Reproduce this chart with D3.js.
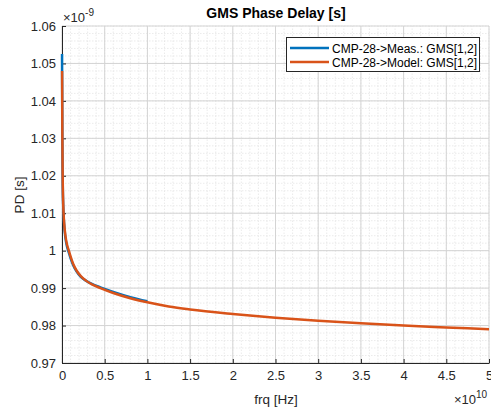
<!DOCTYPE html>
<html>
<head>
<meta charset="utf-8">
<script src="https://cdn.jsdelivr.net/npm/d3@7"></script>
<style>
  body { margin: 0; background: #fff; }
  text { font-family: "Liberation Sans", Arial, sans-serif; }
</style>
</head>
<body>
<div id="chart"></div>
<script>
// frequency in units of 1e10 Hz, phase delay in units of 1e-9 s
const measFrq = [0.0005, 0.001, 0.002, 0.004, 0.008, 0.015, 0.025, 0.04, 0.06, 0.08, 0.1, 0.13, 0.17, 0.22, 0.28, 0.35, 0.45, 0.6, 0.8, 1.0];
const measPD  = [1.0525, 1.049, 1.043, 1.03, 1.019, 1.0115, 1.007, 1.0035, 1.001, 0.9995, 0.998, 0.9962, 0.9945, 0.993, 0.992, 0.9911, 0.9902, 0.989, 0.9876, 0.9865];

const modelFrq = [0.001, 0.002, 0.004, 0.008, 0.015, 0.025, 0.04, 0.06, 0.08, 0.1, 0.13, 0.17, 0.22, 0.28, 0.35, 0.45, 0.6, 0.8, 1.0, 1.25, 1.5, 2.0, 2.5, 3.0, 3.5, 4.0, 4.5, 5.0];
const modelPD  = [1.048, 1.043, 1.031, 1.02, 1.012, 1.0075, 1.004, 1.0015, 1.0, 0.9985, 0.9965, 0.9947, 0.9932, 0.992, 0.991, 0.99, 0.9887, 0.9873, 0.9862, 0.9851, 0.9843, 0.9831, 0.9821, 0.9813, 0.9806, 0.98, 0.9795, 0.979];

const xTicks = [0, 0.5, 1, 1.5, 2, 2.5, 3, 3.5, 4, 4.5, 5];
const yTicks = [0.97, 0.98, 0.99, 1.0, 1.01, 1.02, 1.03, 1.04, 1.05, 1.06];
const seriesNames = ["CMP-28->Meas.: GMS[1,2]", "CMP-28->Model: GMS[1,2]"];
const colors = ["#0072BD", "#D95319"];

const width = 491, height = 407;
const svg = d3.select("#chart").append("svg")
  .attr("width", width).attr("height", height);

const x = d3.scaleLinear().domain([0, 5]).range([62, 489]);
const y = d3.scaleLinear().domain([0.97, 1.06]).range([363, 26]);

// minor grid
const g = svg.append("g");
g.selectAll(".mx").data(d3.range(0, 5.0001, 0.1)).join("line")
  .attr("x1", d => x(d)).attr("x2", d => x(d))
  .attr("y1", y(0.97)).attr("y2", y(1.06))
  .attr("stroke", "#e2e2e2").attr("stroke-width", 0.7).attr("stroke-dasharray", "1.5,1.5");
g.selectAll(".my").data(d3.range(0.97, 1.0601, 0.002)).join("line")
  .attr("x1", x(0)).attr("x2", x(5))
  .attr("y1", d => y(d)).attr("y2", d => y(d))
  .attr("stroke", "#e2e2e2").attr("stroke-width", 0.7).attr("stroke-dasharray", "1.5,1.5");

// major grid
g.selectAll(".gx").data(xTicks).join("line")
  .attr("x1", d => x(d)).attr("x2", d => x(d))
  .attr("y1", y(0.97)).attr("y2", y(1.06))
  .attr("stroke", "#d4d4d4").attr("stroke-width", 1);
g.selectAll(".gy").data(yTicks).join("line")
  .attr("x1", x(0)).attr("x2", x(5))
  .attr("y1", d => y(d)).attr("y2", d => y(d))
  .attr("stroke", "#d4d4d4").attr("stroke-width", 1);

// axes
const xAxis = d3.axisBottom(x).tickValues(xTicks).tickSizeInner(-4).tickSizeOuter(0).tickPadding(8)
  .tickFormat(d => d3.format("~g")(d));
const yAxis = d3.axisLeft(y).tickValues(yTicks).tickSizeInner(-4).tickSizeOuter(0).tickPadding(6)
  .tickFormat(d => d3.format("~g")(+d.toFixed(2)));

const ax = svg.append("g").attr("transform", `translate(0,${y(0.97)})`).call(xAxis);
const ay = svg.append("g").attr("transform", `translate(${x(0)},0)`).call(yAxis);
[ax, ay].forEach(a => {
  a.select(".domain").attr("stroke", "#262626").attr("stroke-width", 1);
  a.selectAll(".tick line").attr("stroke", "#262626");
  a.selectAll(".tick text").attr("fill", "#262626").style("font-size", "13px")
    .style("font-family", "Liberation Sans, Arial, sans-serif");
});

// lines
const line = d3.line().x(d => x(d[0])).y(d => y(d[1])).curve(d3.curveMonotoneX);
const meas = measFrq.map((f, i) => [f, measPD[i]]);
const model = modelFrq.map((f, i) => [f, modelPD[i]]);
svg.append("path").datum(meas).attr("d", line)
  .attr("fill", "none").attr("stroke", colors[0]).attr("stroke-width", 2.5);
svg.append("path").datum(model).attr("d", line)
  .attr("fill", "none").attr("stroke", colors[1]).attr("stroke-width", 2.5);

// title and labels
svg.append("text").attr("x", 276).attr("y", 18).attr("text-anchor", "middle")
  .style("font-size", "14px").style("font-weight", "bold").attr("fill", "#000")
  .text("GMS Phase Delay [s]");
svg.append("text").attr("x", 276).attr("y", 404).attr("text-anchor", "middle")
  .style("font-size", "13.5px").attr("fill", "#262626").text("frq [Hz]");
svg.append("text").attr("transform", "translate(24,195) rotate(-90)").attr("text-anchor", "middle")
  .style("font-size", "13.5px").attr("fill", "#262626").text("PD [s]");

// exponent labels
const ey = svg.append("text").attr("x", 63).attr("y", 22).attr("fill", "#262626").style("font-size", "13px");
ey.append("tspan").text("×10");
ey.append("tspan").attr("dy", -6).style("font-size", "10px").text("-9");
const ex = svg.append("text").attr("x", 454).attr("y", 404).attr("fill", "#262626").style("font-size", "13px");
ex.append("tspan").text("×10");
ex.append("tspan").attr("dy", -6).style("font-size", "10px").text("10");

// legend
const lg = svg.append("g");
lg.append("rect").attr("x", 286.5).attr("y", 37.5).attr("width", 193).attr("height", 34)
  .attr("fill", "#fff").attr("stroke", "#262626").attr("stroke-width", 1);
seriesNames.forEach((name, i) => {
  const ly = 48 + i * 14;
  lg.append("line").attr("x1", 290).attr("x2", 329).attr("y1", ly).attr("y2", ly)
    .attr("stroke", colors[i]).attr("stroke-width", 2.5);
  lg.append("text").attr("x", 332).attr("y", ly + 4.5).style("font-size", "12px")
    .attr("fill", "#000").text(name);
});
</script>
</body>
</html>
